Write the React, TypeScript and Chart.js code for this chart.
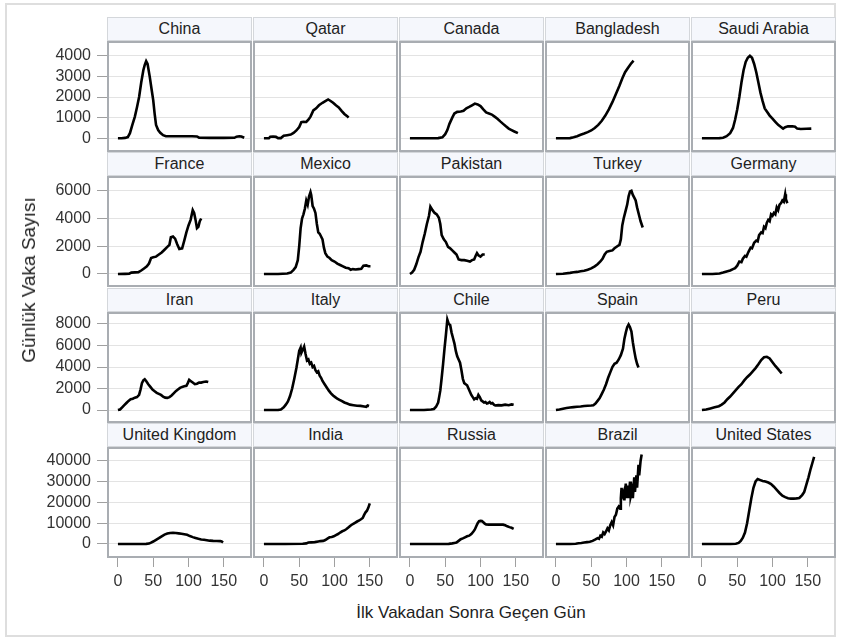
import React, { useEffect, useRef } from "react";
import { Chart, registerables } from "chart.js";

Chart.register(...registerables);

// ---------- data (day after first case, daily cases) ----------
const COUNTRIES = [
  "China", "Qatar", "Canada", "Bangladesh", "Saudi Arabia",
  "France", "Mexico", "Pakistan", "Turkey", "Germany",
  "Iran", "Italy", "Chile", "Spain", "Peru",
  "United Kingdom", "India", "Russia", "Brazil", "United States",
];

const CHINA = [[0,0],[5,0],[10,20],[14,60],[17,250],[20,600],[24,1050],[27,1500],[30,2000],[33,2700],[36,3300],[38,3550],[40,3730],[42,3600],[45,3000],[48,2300],[50,1850],[52,1200],[54,650],[57,400],[60,270],[64,150],[68,100],[80,100],[95,100],[105,100],[112,90],[115,30],[130,20],[150,20],[165,25],[168,80],[172,100],[175,90],[179,30]];
const QATAR = [[0,0],[7,0],[9,80],[13,90],[17,70],[20,10],[24,10],[28,120],[33,150],[38,180],[42,260],[46,380],[50,550],[53,780],[56,800],[60,790],[63,900],[66,1050],[70,1350],[74,1450],[78,1600],[83,1720],[87,1800],[91,1880],[94,1820],[98,1720],[102,1600],[106,1500],[110,1330],[114,1180],[118,1070],[120,1000]];
const CANADA = [[0,0],[20,0],[40,10],[46,50],[50,200],[53,400],[56,700],[60,1000],[63,1200],[67,1280],[72,1300],[76,1330],[80,1450],[84,1520],[88,1600],[92,1680],[96,1640],[100,1560],[104,1400],[108,1250],[112,1200],[116,1150],[120,1050],[124,950],[128,820],[132,700],[136,580],[140,470],[144,400],[148,330],[153,250]];
const BANGLADESH = [[0,0],[10,0],[20,10],[25,50],[30,100],[35,170],[40,230],[45,300],[50,380],[55,500],[60,650],[65,850],[70,1100],[75,1400],[80,1750],[85,2150],[90,2550],[94,2900],[98,3200],[102,3400],[106,3600],[110,3760]];
const SAUDI_ARABIA = [[0,0],[15,0],[25,10],[30,30],[35,100],[40,250],[44,500],[47,900],[50,1400],[53,2000],[56,2700],[59,3300],[62,3700],[65,3900],[68,4000],[71,3900],[74,3600],[77,3200],[80,2700],[83,2200],[86,1800],[89,1450],[92,1300],[96,1100],[100,950],[104,800],[108,650],[112,550],[115,470],[118,540],[122,580],[128,580],[132,560],[135,470],[140,450],[148,460],[155,470]];
const FRANCE = [[0,0],[10,10],[16,20],[19,100],[24,120],[29,130],[33,250],[37,400],[41,550],[44,750],[47,1150],[50,1200],[54,1250],[58,1400],[62,1550],[66,1750],[70,1950],[73,2100],[75,2650],[78,2700],[81,2550],[84,2150],[87,1800],[91,1850],[94,2400],[97,3000],[100,3500],[103,3900],[106,4600],[108,4400],[110,3900],[112,3300],[114,3400],[116,3800],[118,4000]];
const MEXICO = [[0,0],[20,0],[33,30],[38,100],[42,300],[45,500],[48,1000],[50,2000],[52,3300],[54,4000],[56,4300],[58,4700],[60,5300],[62,5000],[64,5600],[66,5900],[67,5700],[69,4900],[71,4700],[73,4400],[75,3600],[77,3000],[79,2900],[81,2700],[83,2500],[85,1900],[87,1500],[90,1250],[93,1150],[96,1000],[100,900],[104,750],[108,650],[112,550],[116,450],[120,420],[123,300],[126,350],[130,320],[134,350],[138,380],[141,600],[145,620],[148,560],[151,560]];
const PAKISTAN = [[0,0],[3,100],[6,300],[9,700],[12,1200],[15,1600],[18,2300],[21,2900],[24,3600],[27,4200],[29,4850],[32,4600],[35,4400],[38,4300],[41,4050],[43,3600],[45,2800],[48,2500],[51,2300],[54,1950],[57,1850],[60,1700],[63,1550],[66,1400],[69,1050],[73,1000],[77,1000],[81,950],[85,900],[88,1000],[91,1050],[93,1300],[95,1500],[97,1350],[100,1250],[103,1400],[106,1400]];
const TURKEY = [[0,0],[10,20],[20,80],[25,120],[30,150],[35,200],[40,230],[45,300],[50,400],[55,550],[59,700],[63,900],[66,1100],[69,1400],[72,1600],[76,1650],[80,1700],[83,1850],[87,2000],[90,2100],[92,2500],[94,3500],[96,4000],[99,4600],[101,5000],[103,5600],[105,5950],[107,6000],[109,5700],[111,5500],[113,5300],[115,4800],[118,4200],[120,3800],[123,3350]];
const GERMANY = [[0,0],[15,0],[25,30],[30,100],[35,180],[40,250],[44,350],[47,420],[50,600],[53,900],[56,850],[58,1100],[61,1300],[63,1250],[66,1600],[69,1900],[71,1850],[74,2250],[77,2400],[79,2350],[81,2800],[84,3000],[86,2950],[88,3400],[90,3300],[92,3700],[94,3900],[96,3800],[98,4300],[100,4200],[102,4400],[104,4300],[106,4800],[108,4600],[110,5000],[112,5100],[114,5300],[116,5200],[118,5750],[119,5400],[121,5100]];
const IRAN = [[0,0],[3,50],[6,250],[9,450],[12,650],[15,850],[18,1000],[21,1050],[24,1150],[27,1200],[30,1400],[32,1900],[34,2500],[36,2750],[38,2850],[40,2700],[43,2400],[46,2150],[49,1900],[52,1750],[55,1600],[58,1500],[61,1400],[64,1250],[67,1150],[70,1130],[73,1200],[76,1350],[79,1550],[82,1750],[85,1900],[88,2050],[91,2150],[94,2200],[97,2250],[99,2500],[101,2800],[103,2700],[106,2550],[109,2400],[112,2450],[115,2550],[118,2550],[121,2600],[125,2650],[128,2600]];
const ITALY = [[0,0],[20,0],[24,50],[28,250],[31,500],[34,800],[37,1300],[40,2000],[43,2900],[46,3900],[48,4700],[50,5500],[52,5800],[53,5300],[55,5600],[57,5900],[59,5200],[61,4600],[63,4700],[65,4300],[67,4400],[69,4000],[71,4100],[73,3700],[75,3500],[77,3600],[79,3200],[81,3000],[83,2700],[86,2400],[89,2100],[92,1800],[95,1550],[98,1350],[101,1200],[104,1050],[107,950],[110,850],[114,700],[118,600],[122,500],[127,450],[132,400],[137,380],[142,330],[145,300],[147,420],[149,380]];
const CHILE = [[0,0],[20,0],[30,50],[34,100],[37,300],[40,700],[43,1800],[45,3000],[47,4300],[49,5700],[51,7000],[53,8400],[55,8000],[57,7900],[59,7200],[61,6700],[63,6200],[65,5500],[67,5000],[69,4700],[71,4400],[73,3700],[75,2900],[77,2500],[79,2400],[81,2300],[83,2000],[85,1700],[87,1400],[89,1200],[91,1000],[93,1100],[95,1050],[97,1400],[99,1200],[101,900],[103,800],[105,700],[107,750],[109,600],[111,650],[113,750],[115,600],[117,650],[119,500],[121,420],[125,450],[130,430],[135,500],[140,450],[144,520],[147,480]];
const SPAIN = [[0,0],[5,50],[10,120],[15,180],[20,230],[25,270],[30,300],[35,330],[40,370],[45,400],[50,420],[53,450],[56,600],[59,850],[62,1100],[65,1500],[68,1900],[71,2400],[74,3000],[77,3500],[80,4000],[83,4300],[86,4400],[89,4700],[92,5100],[95,5700],[97,6600],[99,7200],[101,7700],[103,7950],[105,7700],[107,7300],[109,6300],[111,5500],[113,4800],[115,4300],[117,3950]];
const PERU = [[0,0],[6,50],[12,150],[18,250],[24,350],[28,500],[32,700],[36,1000],[40,1250],[44,1550],[48,1850],[52,2150],[56,2400],[60,2750],[64,3050],[68,3300],[72,3600],[76,3900],[80,4250],[84,4650],[88,4900],[92,4950],[96,4800],[100,4450],[104,4100],[108,3800],[113,3400]];
const UNITED_KINGDOM = [[0,0],[20,0],[40,50],[44,200],[47,700],[50,1200],[54,2000],[58,2800],[62,3700],[66,4500],[70,5000],[74,5300],[78,5400],[82,5300],[86,5100],[90,4900],[94,4700],[98,4400],[102,3800],[106,3300],[110,2900],[114,2500],[118,2200],[122,2000],[126,1800],[130,1600],[135,1500],[140,1450],[145,1400],[147,1200],[149,700]];
const INDIA = [[0,0],[30,0],[55,100],[60,300],[63,700],[67,800],[72,900],[77,1200],[80,1400],[84,1500],[87,1900],[90,2600],[93,3200],[96,3400],[99,3700],[102,4300],[105,4800],[108,5500],[111,6100],[114,6500],[117,7200],[120,8000],[123,8900],[126,9600],[129,10200],[132,10800],[135,11300],[138,12000],[140,12500],[142,14000],[144,15200],[146,16000],[148,17500],[150,19500]];
const RUSSIA = [[0,0],[20,0],[40,0],[55,50],[60,300],[63,500],[66,700],[69,1500],[72,2300],[75,2700],[78,3200],[81,3700],[84,4000],[87,4800],[90,6000],[92,7000],[94,8500],[96,10000],[98,11000],[100,11100],[102,11000],[104,10400],[106,9800],[108,9400],[112,9300],[118,9300],[125,9300],[132,9300],[135,9000],[138,8500],[141,8100],[144,7800],[147,7300]];
const BRAZIL = [[0,0],[20,0],[28,150],[32,350],[36,500],[40,700],[44,900],[48,1100],[52,1500],[56,2200],[59,2800],[61,2500],[63,4000],[65,3500],[67,5500],[69,4800],[71,6000],[73,7500],[75,6500],[77,9000],[79,10500],[81,9000],[83,13000],[85,14000],[87,17000],[89,18000],[91,17000],[92,22000],[93,27000],[94,23000],[96,25000],[97,21000],[99,29000],[100,22000],[102,28000],[103,22000],[105,30000],[106,23000],[108,26000],[109,22000],[111,32000],[112,25000],[114,33000],[115,27000],[117,38000],[118,33000],[120,40000],[121.5,43000]];
const UNITED_STATES = [[0,0],[20,0],[40,0],[48,100],[52,500],[55,1500],[58,3000],[61,5500],[64,10000],[67,16000],[70,22000],[73,27000],[76,30000],[79,31200],[82,30800],[86,30300],[90,30000],[94,29500],[98,28800],[102,27500],[106,26000],[110,24500],[114,23200],[118,22500],[122,22000],[126,21800],[130,21800],[134,21900],[138,22100],[142,23500],[145,25000],[148,28500],[151,32000],[154,36000],[157,39500],[159,41800]];

const SERIES = [
  CHINA, QATAR, CANADA, BANGLADESH, SAUDI_ARABIA,
  FRANCE, MEXICO, PAKISTAN, TURKEY, GERMANY,
  IRAN, ITALY, CHILE, SPAIN, PERU,
  UNITED_KINGDOM, INDIA, RUSSIA, BRAZIL, UNITED_STATES,
];

// shared axis ranges (per row for y)
const X_RANGE = [-15.5, 190];
const X_TICKS = [0, 50, 100, 150];
const ROW_Y_MIN = [-663, -937, -1209, -6723];
const ROW_Y_MAX = [4712, 7061, 9116, 46579];
const ROW_Y_TICKS = [
  [0, 1000, 2000, 3000, 4000],
  [0, 2000, 4000, 6000],
  [0, 2000, 4000, 6000, 8000],
  [0, 10000, 20000, 30000, 40000],
];

const Y_TITLE = "Günlük Vaka Sayısı";
const X_TITLE = "İlk Vakadan Sonra Geçen Gün";

// ---------- layout ----------
const FONT = '"Liberation Sans", Arial, Helvetica, sans-serif';
const COL_LEFT = [107, 253, 399, 545, 691];
const PLOT_TOP = [41, 176, 312, 447];
const PLOT_W = 145;
const PLOT_H = 111;
const HEADER_H = 24;
const AXIS_LEFT = 10;
const X_AXIS_H = 45;
const FRAME_COLOR = "#a9adb2";
const TICK_FONT = { family: FONT, size: 16 };

const framePlugin = {
  id: "panelFrame",
  beforeDatasetsDraw(chart: any) {
    const { ctx, chartArea: a } = chart;
    ctx.save();
    ctx.strokeStyle = FRAME_COLOR;
    ctx.lineWidth = 2;
    ctx.strokeRect(a.left + 1, a.top + 1, a.right - a.left - 2, a.bottom - a.top - 2);
    ctx.restore();
  },
};

function zeroPad(s: any) {
  s.paddingTop = 0;
  s.paddingBottom = 0;
  s.paddingLeft = 0;
  s.paddingRight = 0;
}

function Panel({ r, c }: { r: number; c: number }) {
  const ref = useRef<HTMLCanvasElement>(null);
  const left = c === 0 ? AXIS_LEFT : COL_LEFT[c];
  const w = COL_LEFT[c] + PLOT_W - left;
  const h = PLOT_H + (r === 3 ? X_AXIS_H : 0);
  useEffect(() => {
    const idx = r * 5 + c;
    const showX = r === 3;
    const showY = c === 0;
    const xScale: any = {
      type: "linear",
      min: X_RANGE[0],
      max: X_RANGE[1],
      display: showX,
      afterBuildTicks: (s: any) => { s.ticks = X_TICKS.map((v) => ({ value: v })); },
      ticks: {
        color: "#333",
        font: TICK_FONT,
        padding: 5,
        maxRotation: 0,
        minRotation: 0,
        autoSkip: false,
        callback: (v: any) => String(v),
      },
      grid: { drawOnChartArea: false, drawTicks: true, tickLength: 9, tickColor: "#a0a0a0", tickWidth: 1 },
      border: { display: false },
      afterFit: (s: any) => { s.height = showX ? X_AXIS_H : 0; zeroPad(s); },
    };
    const yScale: any = {
      type: "linear",
      min: ROW_Y_MIN[r],
      max: ROW_Y_MAX[r],
      afterBuildTicks: (s: any) => { s.ticks = ROW_Y_TICKS[r].map((v) => ({ value: v })); },
      ticks: {
        display: true,
        color: showY ? "#333" : "rgba(0,0,0,0)",
        font: TICK_FONT,
        padding: 6,
        autoSkip: false,
        callback: (v: any) => String(v),
      },
      grid: { display: true, drawOnChartArea: true, color: "#e3e3e3", lineWidth: 1, drawTicks: showY, tickLength: 10, tickColor: "#a0a0a0" },
      border: { display: false },
      afterFit: (s: any) => { s.width = showY ? COL_LEFT[0] - AXIS_LEFT : 0; zeroPad(s); },
    };
    const chart = new Chart(ref.current as HTMLCanvasElement, {
      type: "line",
      data: {
        datasets: [
          {
            label: COUNTRIES[idx],
            data: SERIES[idx].map(([x, y]) => ({ x, y })),
            borderColor: "#000",
            borderWidth: 2.6,
            pointRadius: 0,
            tension: 0,
            fill: false,
          },
        ],
      },
      options: {
        animation: false,
        responsive: false,
        devicePixelRatio: 1,
        events: [],
        layout: { padding: 0, autoPadding: false },
        plugins: { legend: { display: false }, tooltip: { enabled: false } },
        scales: { x: xScale, y: yScale },
      } as any,
      plugins: [framePlugin],
    });
    return () => chart.destroy();
  }, [r, c]);
  return (
    <canvas
      ref={ref}
      width={w}
      height={h}
      style={{ position: "absolute", left, top: PLOT_TOP[r], width: w, height: h }}
    />
  );
}

export default function App() {
  const panels: any[] = [];
  const headers: any[] = [];
  for (let r = 0; r < 4; r++) {
    for (let c = 0; c < 5; c++) {
      headers.push(
        <div
          key={`h${r}${c}`}
          style={{
            position: "absolute",
            left: COL_LEFT[c],
            top: PLOT_TOP[r] - HEADER_H,
            width: PLOT_W,
            height: HEADER_H,
            boxSizing: "border-box",
            border: "1px solid #d4d7db",
            background: "#f5f7fc",
            font: `16px ${FONT}`,
            color: "#222",
            textAlign: "center",
            lineHeight: `${HEADER_H - 2}px`,
            whiteSpace: "nowrap",
          }}
        >
          {COUNTRIES[r * 5 + c]}
        </div>
      );
      panels.push(<Panel key={`p${r}${c}`} r={r} c={c} />);
    }
  }
  return (
    <div
      style={{
        position: "fixed",
        left: 0,
        top: 0,
        width: 841,
        height: 639,
        background: "#fff",
        overflow: "hidden",
      }}
    >
      <div
        style={{
          position: "absolute",
          left: 5,
          top: 3,
          width: 831,
          height: 634,
          boxSizing: "border-box",
          border: "2px solid #dedede",
        }}
      />
      {headers}
      {panels}
      <div
        style={{
          position: "absolute",
          left: 29,
          top: 280,
          transform: "translate(-50%, -50%) rotate(-90deg)",
          font: `19px ${FONT}`,
          color: "#222",
          whiteSpace: "nowrap",
        }}
      >
        {Y_TITLE}
      </div>
      <div
        style={{
          position: "absolute",
          left: 471,
          top: 613,
          transform: "translate(-50%, -50%)",
          font: `17px ${FONT}`,
          color: "#222",
          whiteSpace: "nowrap",
        }}
      >
        {X_TITLE}
      </div>
    </div>
  );
}
